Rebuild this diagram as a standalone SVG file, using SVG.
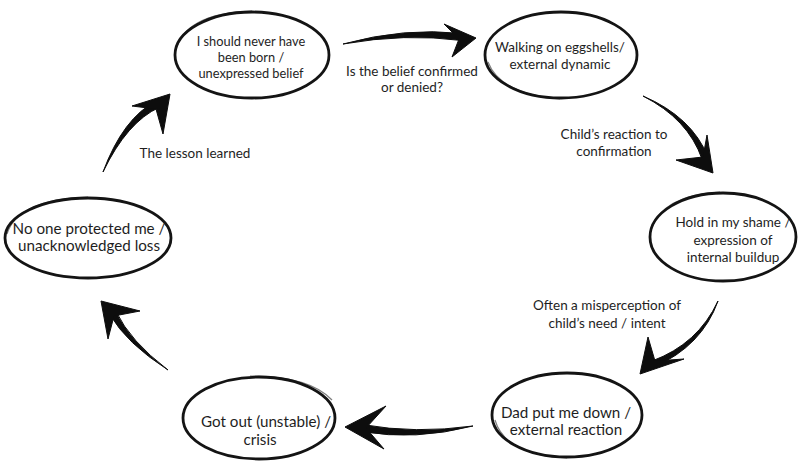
<svg xmlns="http://www.w3.org/2000/svg" width="800" height="463" viewBox="0 0 800 463">
<style>
.node ellipse{fill:#fff;stroke:#141414;stroke-width:2.8}
.node .sk{fill:none;stroke:#141414;stroke-width:1.2;opacity:.55}
text{font-family:Lato,"Open Sans","Liberation Sans",sans-serif;font-size:13.5px;fill:#1e1e1e;text-anchor:middle}
.big text{font-size:15.2px}
.small text{font-size:12.8px}
.arrows path{fill:#0d0d0d;stroke:#0d0d0d;stroke-width:1;stroke-linejoin:round}
</style>
<rect width="800" height="463" fill="#fff"/>
<g class="arrows" id="connectors">
<path d="M343,44 Q405,27 462,33.5 L462,40.5 Q405,33 343,44 Z"/>
<path d="M444,24 L476,38 L452,57 L459,39 Z"/>
<path d="M643,96 Q692,117 708,157 L702,159 Q688,119 643,96 Z"/>
<path d="M707,135 L713,173 L676,160 L703,157 Z"/>
<path d="M718,301 Q702,346 654,367 L652,361 Q698,344 718,301 Z"/>
<path d="M648,337 L640,374 L684,359 L655,361 Z"/>
<path d="M473,426 Q415,434 362.7,424.6 L361.3,431.4 Q415,441 473,426 Z"/>
<path d="M386,406 L345,427 L384,449 L366,428 Z"/>
<path d="M168,370 Q130,341 116,311.4 L110,314.6 Q126,343 168,370 Z"/>
<path d="M140,311 L101,301 L108,339 L114,316 Z"/>
<path d="M103,172 Q123,118 156.5,100.8 L159.5,107.2 Q127,122 103,172 Z"/>
<path d="M132,106 L170,94 L163,134 L156,109 Z"/>
</g>
<g id="labels">
<text x="412" y="76">Is the belief confirmed</text>
<text x="412" y="92">or denied?</text>
<text x="614" y="139">Child’s reaction to</text>
<text x="614" y="156">confirmation</text>
<text x="607" y="310">Often a misperception of</text>
<text x="607" y="328">child’s need / intent</text>
<text x="195" y="158">The lesson learned</text>
</g>
<g class="node small" id="n1">
<ellipse cx="252" cy="55" rx="77" ry="43"/>
<path class="sk" d="M175,54 Q182,13 252,11"/>
<text x="251" y="46">I should never have</text>
<text x="251" y="62">been born /</text>
<text x="251" y="78">unexpressed belief</text>
</g>
<g class="node" id="n2">
<ellipse cx="561" cy="55" rx="76" ry="43"/>
<path class="sk" d="M488,62 Q500,94 560,99"/>
<text x="560" y="52">Walking on eggshells/</text>
<text x="560" y="69">external dynamic</text>
</g>
<g class="node" id="n3">
<ellipse cx="723" cy="237" rx="73" ry="44"/>
<path class="sk" d="M651,230 Q662,195 720,192"/>
<text x="733" y="227">Hold in my shame /</text>
<text x="733" y="245">expression of</text>
<text x="733" y="262">internal buildup</text>
</g>
<g class="node big" id="n4">
<ellipse cx="567" cy="415" rx="75" ry="42"/>
<path class="sk" d="M495,420 Q505,455 567,458"/>
<text x="566" y="418">Dad put me down /</text>
<text x="566" y="435">external reaction</text>
</g>
<g class="node big" id="n5">
<ellipse cx="259" cy="418" rx="76" ry="41"/>
<path class="sk" d="M250,376 Q310,376 332,400"/>
<text x="266" y="427">Got out (unstable) /</text>
<text x="260" y="445">crisis</text>
</g>
<g class="node big" id="n6">
<ellipse cx="88" cy="238" rx="83" ry="40"/>
<path class="sk" d="M7,234 Q18,199 88,197"/>
<text x="89" y="234">No one protected me /</text>
<text x="89" y="251">unacknowledged loss</text>
</g>
</svg>
